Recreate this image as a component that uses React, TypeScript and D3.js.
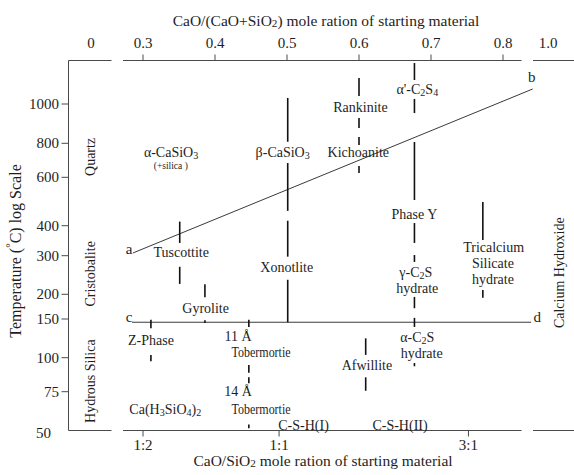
import * as React from "react";
import * as d3 from "d3";

// top axis: CaO/(CaO+SiO2) of starting material
const topTicks = [0.3, 0.4, 0.5, 0.6, 0.7, 0.8];
const sideLabels = ["0", "1.0"];
// bottom axis: CaO/SiO2, placed on the CaO/(CaO+SiO2) scale
const bottomTickLabels = ["1:2", "1:1", "3:1"];
const bottomTickAt = [0.3, 0.489, 0.752];
// temperature ticks (°C)
const tempTicks = [50, 75, 100, 150, 200, 300, 400, 600, 800, 1000];

const silicaFields = ["Quartz", "Cristobalite", "Hydrous Silica"];
const silicaTemps = [713, 248, 82];
const limeField = "Calcium Hydroxide";
const limeTemp = 251;

// phase labels: text (_n = subscript), composition, temperature
const phaseLabels: [string, number, number][] = [
  ["α-CaSiO_3", 0.339, 745],
  ["β-CaSiO_3", 0.494, 745],
  ["Rankinite", 0.602, 983],
  ["Kichoanite", 0.599, 737],
  ["α'-C_2S_4", 0.681, 1089],
  ["Phase Y", 0.677, 441],
  ["γ-C_2S", 0.679, 253],
  ["hydrate", 0.681, 213],
  ["Tricalcium", 0.787, 323],
  ["Silicate", 0.786, 275],
  ["hydrate", 0.786, 233],
  ["Tuscottite", 0.353, 309],
  ["Xonotlite", 0.4997, 264],
  ["Gyrolite", 0.387, 170],
  ["Z-Phase", 0.311, 119.5],
  ["11 Å", 0.432, 125],
  ["Tobermortie", 0.464, 106],
  ["14 Å", 0.432, 75],
  ["Tobermortie", 0.464, 62.5],
  ["Afwillite", 0.611, 94],
  ["α-C_2S", 0.681, 124],
  ["hydrate", 0.687, 105],
  ["Ca(H_3SiO_4)_2", 0.331, 62.5],
  ["C-S-H(I)", 0.523, 52.6],
  ["C-S-H(II)", 0.657, 52.6],
];
const noteLabels: [string, number, number][] = [["(+silica )", 0.3386, 660]];

// phase boundaries: composition, from T, to T
const boundarySegments: [number, number, number][] = [
  [0.351, 414, 339], [0.351, 267, 223],
  [0.386, 222, 193.5], [0.386, 148, 144],
  [0.501, 1035, 807], [0.501, 677, 453], [0.501, 417, 297], [0.501, 233, 145],
  [0.6, 1159, 1046], [0.6, 924, 873], [0.6, 829, 789], [0.6, 660, 622],
  [0.677, 1262, 1146], [0.677, 1029, 950], [0.677, 806, 496], [0.677, 409, 339],
  [0.677, 302, 281], [0.677, 194, 170], [0.677, 152, 138], [0.677, 95.6, 93],
  [0.772, 488, 349], [0.772, 209, 192],
  [0.311, 149, 136], [0.311, 103, 97],
  [0.447, 149, 138], [0.447, 94, 88], [0.447, 84.7, 80.5], [0.447, 53.2, 51.2],
  [0.6093, 122.5, 103], [0.6093, 84.7, 75.6],
];

// a-b and c-d lines, and their end letters
const abLine: [number, number][] = [[0.2861, 308], [0.8413, 1089]];
const cdLine: [number, number][] = [[0.2847, 145], [0.839, 145]];
const pointLetters: [string, number, number][] = [
  ["a", 0.2806, 320], ["b", 0.8398, 1166], ["c", 0.2806, 153], ["d", 0.8476, 153],
];

const W = 574;
const H = 475;
const frameTop = 60.5;
const frameBottom = 430.5;
const leftCol = [68.5, 111.5];
const midCol = [123, 521.5];
const rightCol = [533, 574];
const tempAxisY = [430.5, 391.7, 357.7, 319, 294.3, 255.7, 225.7, 177.3, 143.3, 104];
// the source sets this word narrower than the rest
const squeezed: Record<string, number> = { Tobermortie: 59 };

const x = d3.scaleLinear().domain([0.3, 0.8]).range([143, 503]);
const y = d3.scaleLog().domain(tempTicks).range(tempAxisY);

const serif = "'Liberation Serif', 'Times New Roman', serif";
const ink = "#1e1e1e";
const axisInk = "#4a4a4a";

function Rich({ text, ...props }: any) {
  const parts = text.split(/_(\d)/);
  const fit = squeezed[text];
  return (
    <text {...props} {...(fit ? { textLength: fit, lengthAdjust: "spacingAndGlyphs" } : {})}>
      {parts.length === 1
        ? text
        : parts.map((p, i) =>
            i % 2 ? (
              <tspan key={i} dy={3} fontSize="0.72em">{p}</tspan>
            ) : (
              <tspan key={i} dy={i > 0 ? -3 : 0}>{p}</tspan>
            )
          )}
    </text>
  );
}

export default function App() {
  const hSegs = [leftCol, midCol, rightCol];
  const line = d3.line<[number, number]>().x(d => x(d[0])).y(d => y(d[1]));
  return (
    <svg
      width={W}
      height={H}
      style={{ position: "fixed", left: 0, top: 0, background: "#fff" }}
      fontFamily={serif}
      fill={ink}
    >
      {/* frame: broken top and bottom axes, left spine */}
      {hSegs.map((s, i) => (
        <g key={i} stroke={axisInk} strokeWidth={1}>
          <line x1={s[0]} x2={s[1]} y1={frameTop} y2={frameTop} />
          <line x1={s[0]} x2={s[1]} y1={frameBottom} y2={frameBottom} />
        </g>
      ))}
      <line x1={leftCol[0]} x2={leftCol[0]} y1={frameTop} y2={frameBottom} stroke={axisInk} />

      {/* top axis */}
      <Rich text="CaO/(CaO+SiO_2) mole ration of starting material" x={326} y={20}
        textAnchor="middle" dominantBaseline="central" fontSize={15.5} />
      {topTicks.map(t => (
        <g key={t}>
          <line x1={x(t)} x2={x(t)} y1={frameTop} y2={frameTop - 6} stroke={axisInk} />
          <text x={x(t)} y={43} textAnchor="middle" dominantBaseline="central" fontSize={15}>
            {t.toFixed(1)}
          </text>
        </g>
      ))}
      <text x={(leftCol[0] + leftCol[1]) / 2 + 1} y={43} textAnchor="middle" dominantBaseline="central" fontSize={15}>{sideLabels[0]}</text>
      <text x={548} y={43} textAnchor="middle" dominantBaseline="central" fontSize={15}>{sideLabels[1]}</text>

      {/* bottom axis */}
      {bottomTickAt.map((v, i) => (
        <g key={i}>
          <line x1={x(v)} x2={x(v)} y1={frameBottom} y2={frameBottom + 6} stroke={axisInk} />
          <text x={x(v)} y={445} textAnchor="middle" dominantBaseline="central" fontSize={15}>
            {bottomTickLabels[i]}
          </text>
        </g>
      ))}
      <Rich text="CaO/SiO_2 mole ration of starting material" x={323} y={460}
        textAnchor="middle" dominantBaseline="central" fontSize={15.5} />

      {/* left temperature axis */}
      {tempTicks.map(t => (
        <g key={t}>
          {t !== 50 && <line x1={leftCol[0] - 7} x2={leftCol[0]} y1={y(t)} y2={y(t)} stroke={axisInk} />}
          <text x={t === 50 ? 51 : 59} y={y(t) + (t === 50 ? 2.5 : 0)} textAnchor="end"
            dominantBaseline="central" fontSize={15}>{t}</text>
        </g>
      ))}
      <text transform={`translate(15,251) rotate(-90)`} textAnchor="middle" dominantBaseline="central" fontSize={16}>
        Temperature (<tspan fontSize="0.7em" dy={-5}>°</tspan><tspan dy={5}>C) log Scale</tspan>
      </text>

      {/* silica and lime columns */}
      {silicaFields.map((s, i) => (
        <text key={s} transform={`translate(90,${y(silicaTemps[i])}) rotate(-90)`}
          textAnchor="middle" dominantBaseline="central" fontSize={14}>{s}</text>
      ))}
      <text transform={`translate(559,${y(limeTemp)}) rotate(-90)`} textAnchor="middle"
        dominantBaseline="central" fontSize={14}>{limeField}</text>

      {/* a-b and c-d lines */}
      <path d={line(abLine) ?? ""} fill="none" stroke="#3a3a3a" strokeWidth={1} />
      <path d={line(cdLine) ?? ""} fill="none" stroke="#3a3a3a" strokeWidth={1} />
      {pointLetters.map(([l, v, t]) => (
        <text key={l} x={x(v)} y={y(t)} textAnchor="middle" dominantBaseline="central" fontSize={15}>{l}</text>
      ))}

      {/* phase boundaries */}
      {boundarySegments.map(([v, t0, t1], i) => (
        <line key={i} x1={x(v)} x2={x(v)} y1={y(t0)} y2={y(t1)} stroke="#111" strokeWidth={1.6} />
      ))}

      {/* phase labels */}
      {phaseLabels.map(([s, v, t], i) => (
        <Rich key={i} text={s} x={x(v)} y={y(t)} textAnchor="middle" dominantBaseline="central" fontSize={14} />
      ))}
      {noteLabels.map(([s, v, t], i) => (
        <text key={i} x={x(v)} y={y(t)} textAnchor="middle" dominantBaseline="central" fontSize={9.5}>{s}</text>
      ))}
    </svg>
  );
}
